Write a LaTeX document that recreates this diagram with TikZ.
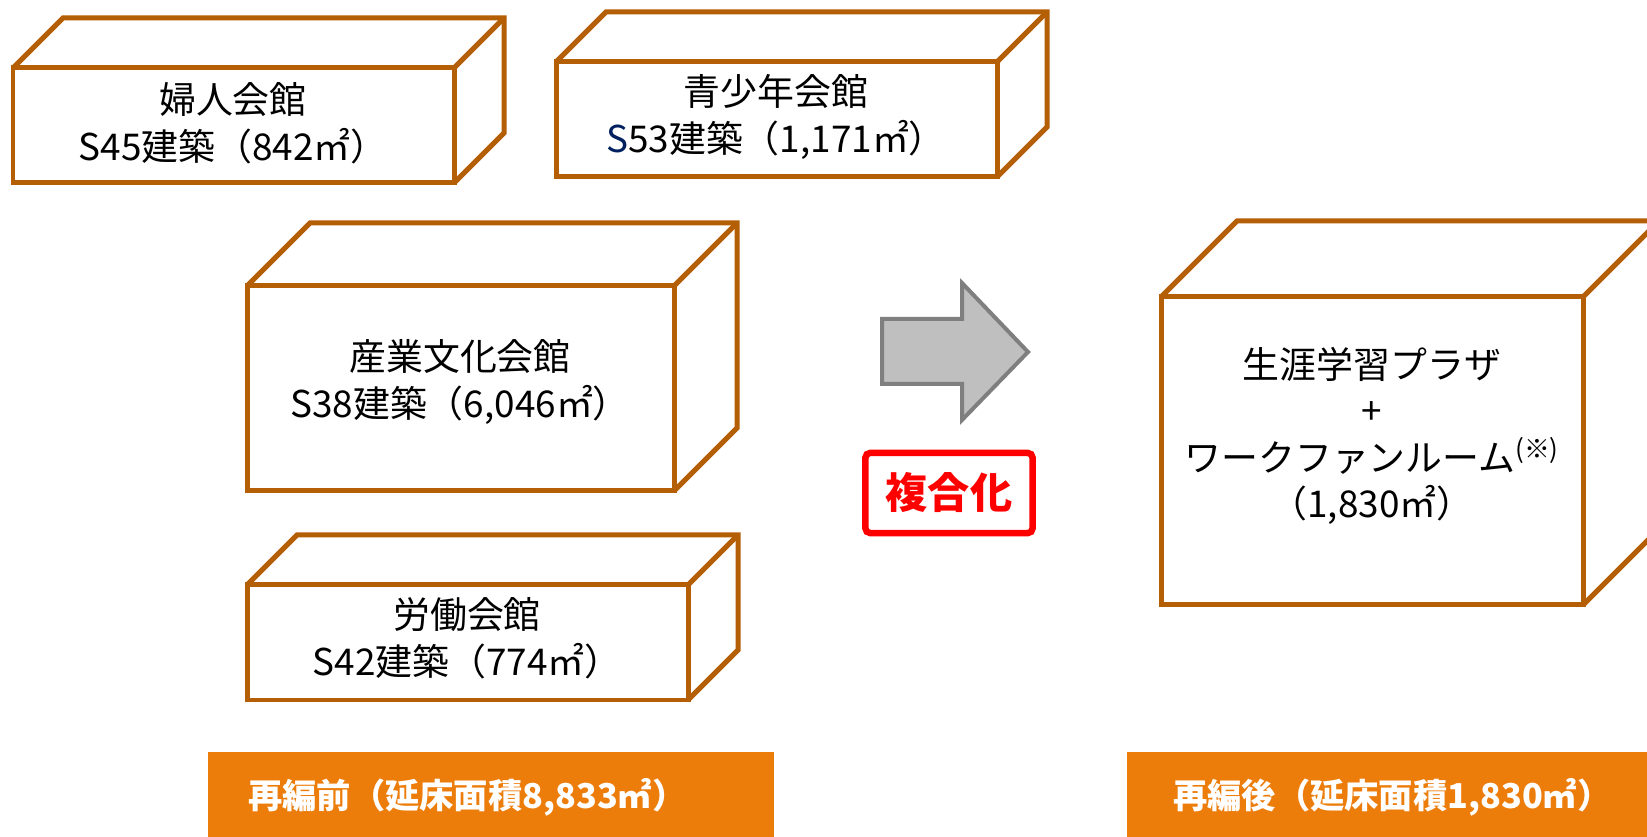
\documentclass[tikz,border=0pt]{standalone}
\usepackage{fontspec}
\setmainfont{Noto Sans CJK JP}
\definecolor{wallbrown}{RGB}{180,95,6}
\definecolor{bandorange}{RGB}{237,125,10}
\definecolor{arrowgray}{RGB}{191,191,191}
\definecolor{arrowedge}{RGB}{127,127,127}
\definecolor{sblue}{RGB}{0,32,96}
\begin{document}
\begin{tikzpicture}[x=0.02cm, y=-0.02cm,
	wall/.style = {draw=wallbrown, line width=0.1cm},
	bldgtext/.style = {align=center, font=\fontsize{21}{26.5}\selectfont},
	band/.style = {fill=bandorange},
	bandtext/.style = {anchor=west, inner sep=0, text=white, font=\bfseries\fontsize{19.5}{24}\selectfont}]

	\useasboundingbox (0,0) rectangle (1647,837);
	\fill[white] (0,0) rectangle (1647,837);

	\foreach \xa/\ya/\xb/\yb/\d in {13/68/454/183/50, 556/62/997/177/50, 247/286/674/491/63, 247/585/688/700/50, 1161/297/1583/605/76}{
		\draw[wall] (\xa,\ya) rectangle (\xb,\yb);
		\draw[wall] (\xa,\ya) -- ++(\d,-\d) -- (\xb+\d,\ya-\d) -- (\xb+\d,\yb-\d) -- (\xb,\yb);
		\draw[wall] (\xb,\ya) -- ++(\d,-\d);
	}

	\node[bldgtext] (fujin) at (233,123) {婦人会館\\S45建築（842㎡）};
	\node[bldgtext] (seisho) at (776,117) {青少年会館\\\textcolor{sblue}{S}53建築（1,171㎡）};
	\node[bldgtext] (sangyo) at (460,382) {産業文化会館\\S38建築（6,046㎡）};
	\node[bldgtext] (rodo) at (467,638) {労働会館\\S42建築（774㎡）};
	\node[bldgtext] (plaza) at (1372,436) {生涯学習プラザ\\+\\ワークファンルーム\textsuperscript{(※)}\\（1,830㎡）};

	\draw[fill=arrowgray, draw=arrowedge, line width=0.08cm] (882,319) -- (962,319) -- (962,283) -- (1028,352) -- (962,420) -- (962,384) -- (882,384) -- cycle;

	\node[draw=red, line width=0.13cm, rounded corners=3pt, minimum width=3.35cm, minimum height=1.61cm, text=red, font=\bfseries\fontsize{24}{28}\selectfont] (fukugo) at (949,493) {複合化};

	\fill[band] (208,752) rectangle (774,840);
	\fill[band] (1127,752) rectangle (1660,840);
	\node[bandtext] (mae) at (248,797) {再編前（延床面積8,833㎡）};
	\node[bandtext] (ato) at (1173,797) {再編後（延床面積1,830㎡）};
\end{tikzpicture}
\end{document}
